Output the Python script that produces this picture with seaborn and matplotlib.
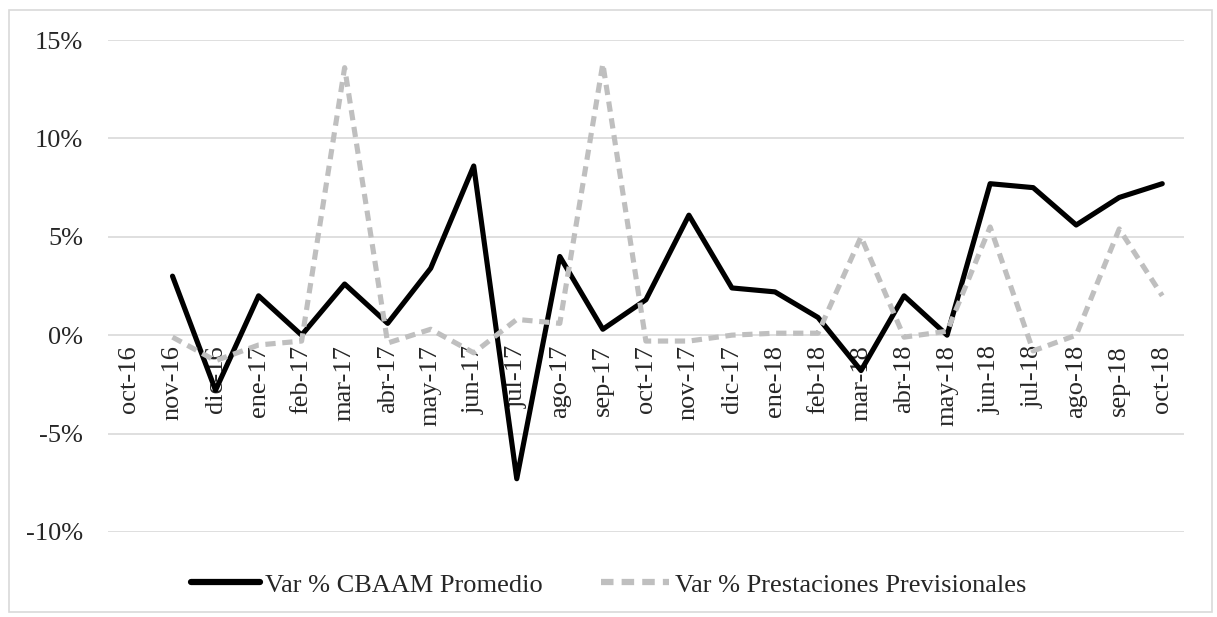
import numpy as np
import pandas as pd
import matplotlib
matplotlib.use("Agg")
import matplotlib.pyplot as plt
import matplotlib.patches as patches
from matplotlib.ticker import FuncFormatter, MultipleLocator
import seaborn as sns

# datos (variación % mensual)
meses = ['oct-16', 'nov-16', 'dic-16', 'ene-17', 'feb-17', 'mar-17', 'abr-17', 'may-17',
         'jun-17', 'jul-17', 'ago-17', 'sep-17', 'oct-17', 'nov-17', 'dic-17', 'ene-18',
         'feb-18', 'mar-18', 'abr-18', 'may-18', 'jun-18', 'jul-18', 'ago-18', 'sep-18', 'oct-18']
var_cbaam = [np.nan, 3.0, -2.8, 2.0, 0.0, 2.6, 0.6, 3.4, 8.6, -7.3, 4.0, 0.3, 1.8,
             6.1, 2.4, 2.2, 0.9, -1.8, 2.0, 0.0, 7.7, 7.5, 5.6, 7.0, 7.7]
var_prest = [np.nan, -0.1, -1.3, -0.5, -0.3, 13.6, -0.4, 0.3, -0.9, 0.8, 0.6, 13.8, -0.3,
             -0.3, 0.0, 0.1, 0.1, 5.0, -0.1, 0.2, 5.5, -0.8, 0.0, 5.4, 2.0]

lbl_cbaam = 'Var % CBAAM Promedio'
lbl_prest = 'Var % Prestaciones Previsionales'

df = pd.DataFrame({'pos': np.arange(len(meses)), 'mes': meses,
                   lbl_cbaam: var_cbaam, lbl_prest: var_prest})

sns.set_style("white")
plt.rcParams['font.family'] = ['Liberation Serif', 'DejaVu Serif']
fs = 19

fig = plt.figure(figsize=(12.17, 6.17), dpi=100)
ax = fig.add_axes([0.0887, 0.138, 0.884, 0.797])

# marco del gráfico
fig.patches.append(patches.Rectangle((0.0074, 0.008), 0.9885, 0.976, transform=fig.transFigure,
                                     fill=False, edgecolor='#D9D9D9', linewidth=1.2))

sns.lineplot(data=df, x='pos', y=lbl_cbaam, color='black', linewidth=3.7,
             label=lbl_cbaam, ax=ax)
sns.lineplot(data=df, x='pos', y=lbl_prest, color='#BFBFBF', linewidth=3.7,
             label=lbl_prest, ax=ax)
ax.lines[1].set_dashes([2.0, 1.3])

ax.set_xlim(-0.5, len(meses) - 0.5)
ax.set_ylim(-10, 15)
ax.grid(axis='y', color='#D9D9D9', linewidth=1.2)
ax.set_axisbelow(True)

# eje x cruzando en 0 (antes de fijar etiquetas, porque reinicia los ticks)
ax.spines['bottom'].set_position(('data', 0))
for s in ['top', 'right', 'left', 'bottom']:
    ax.spines[s].set_visible(False)

ax.yaxis.set_major_locator(MultipleLocator(5))
ax.yaxis.set_major_formatter(FuncFormatter(lambda v, p: f'{v:.0f}%'))
ax.set_xticks(df['pos'])
ax.set_xticklabels(meses, rotation=90, va='top', ha='center')
ax.tick_params(axis='x', length=0, pad=7, labelsize=fs)
ax.tick_params(axis='y', length=0, pad=18, labelsize=fs)
ax.set_xlabel('')
ax.set_ylabel('')

leg = ax.legend(loc='center', bbox_to_anchor=(0.5, 0.052), bbox_transform=fig.transFigure,
                ncol=2, frameon=False, fontsize=fs, handlelength=2.6,
                columnspacing=2.2, handletextpad=0.2)
for h in leg.get_lines():
    h.set_linewidth(4.5)

fig.savefig('out.png', dpi=100)
